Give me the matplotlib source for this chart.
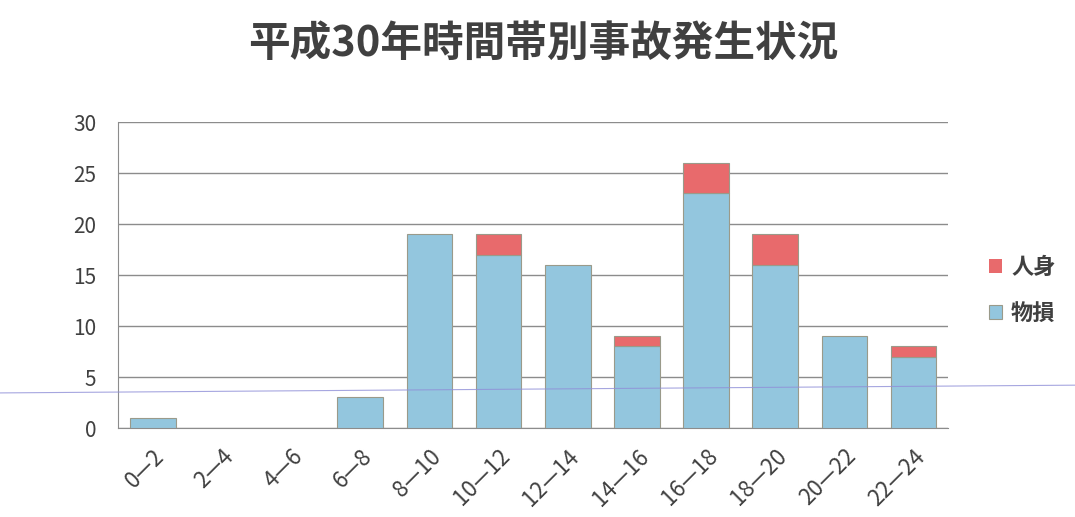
import numpy as np
import matplotlib.pyplot as plt
from matplotlib.lines import Line2D

plt.rcParams['font.family'] = ['Noto Sans CJK JP', 'DejaVu Sans']

# Time slots
slots = ['0—2', '2—4', '4—6', '6—8', '8—10', '10—12',
         '12—14', '14—16', '16—18', '18—20', '20—22', '22—24']

# Accidents by type
property_damage = [1, 0, 0, 3, 19, 17, 16, 8, 23, 16, 9, 7]   # 物損
injury = [0, 0, 0, 0, 0, 2, 0, 1, 3, 3, 0, 1]                  # 人身

blue = '#93c6de'
red = '#e86a6c'

fig = plt.figure(figsize=(10.75, 5.17), dpi=100)
ax = fig.add_axes([0.110, 0.172, 0.772, 0.592])

x = np.arange(len(slots))
# no outline for empty segments
lw_pd = [0.8 if v > 0 else 0 for v in property_damage]
lw_in = [0.8 if v > 0 else 0 for v in injury]
ax.bar(x, property_damage, width=0.66, color=blue,
       edgecolor='#9a9a8a', linewidth=lw_pd, label='物損', zorder=3)
ax.bar(x, injury, width=0.66, bottom=property_damage, color=red,
       edgecolor='#9a9a8a', linewidth=lw_in, label='人身', zorder=3)

ax.set_xlim(-0.5, len(slots) - 0.5)
ax.set_ylim(0, 30)
ax.set_yticks(range(0, 31, 5))
ax.set_xticks(x)
ax.set_xticklabels(slots, rotation=45, ha='right', va='top',
                   rotation_mode='anchor', fontsize=16, color='#404040')
ax.tick_params(axis='y', labelsize=15, labelcolor='#404040', length=0, pad=16)
ax.tick_params(axis='x', length=0, pad=12)
ax.grid(axis='y', color='#8c8c8c', linewidth=1.0, zorder=0)

for side in ['top', 'right']:
    ax.spines[side].set_visible(False)
ax.spines['left'].set_color('#8c8c8c')
ax.spines['bottom'].set_color('#8c8c8c')

handles, labels = ax.get_legend_handles_labels()
ax.legend(handles[::-1], labels[::-1], loc='center left',
          bbox_to_anchor=(1.025, 0.45), frameon=False,
          prop={'size': 16, 'weight': 'bold'},
          handlelength=0.6, handleheight=0.6, handletextpad=0.4,
          labelspacing=1.0, labelcolor='#404040')

fig.suptitle('平成30年時間帯別事故発生状況', x=0.505, y=0.955,
             fontsize=30, fontweight='bold', color='#404040')

# faint scan line across the page
fig.add_artist(Line2D([0, 1], [0.240, 0.255], transform=fig.transFigure,
                      color='#9090d8', linewidth=0.8, alpha=0.8))

fig.savefig('out.png', dpi=100)
